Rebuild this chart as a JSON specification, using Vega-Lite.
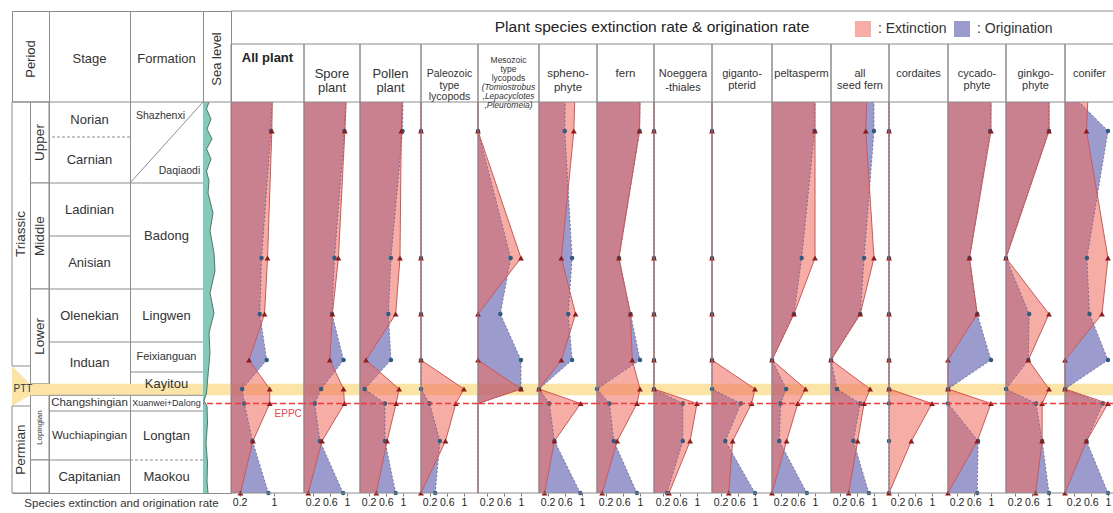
{
  "$schema": "https://vega.github.io/schema/vega-lite/v6.json",
  "padding": {"left": 11, "top": 10, "right": 0, "bottom": 0},
  "background": "white",
  "config": {
    "view": {"stroke": "#8c8c8c", "strokeWidth": 1},
    "concat": {"spacing": 0},
    "font": "Liberation Sans",
    "text": {"font": "Liberation Sans", "color": "#333333"},
    "axis": {"labelFont": "Liberation Sans", "labelColor": "#222222", "tickColor": "#777777"}
  },
  "datasets": {
    "rates": [
      {"taxon": "All plant", "level": 391, "sampled": false, "Extinction": 0.96, "Origination": 0.95},
      {"taxon": "All plant", "level": 362, "sampled": true, "Extinction": 0.95, "Origination": 0.93},
      {"taxon": "All plant", "level": 235, "sampled": true, "Extinction": 0.85, "Origination": 0.71},
      {"taxon": "All plant", "level": 179, "sampled": true, "Extinction": 0.78, "Origination": 0.67},
      {"taxon": "All plant", "level": 133, "sampled": true, "Extinction": 0.42, "Origination": 0.83},
      {"taxon": "All plant", "level": 104, "sampled": true, "Extinction": 0.90, "Origination": 0.26},
      {"taxon": "All plant", "level": 89.5, "sampled": true, "Extinction": 0.90, "Origination": 0.31},
      {"taxon": "All plant", "level": 52, "sampled": true, "Extinction": 0.51, "Origination": 0.50},
      {"taxon": "All plant", "level": 0, "sampled": true, "Extinction": 0.22, "Origination": 0.87},
      {"taxon": "Spore plant", "level": 391, "sampled": false, "Extinction": 0.98, "Origination": 0.97},
      {"taxon": "Spore plant", "level": 362, "sampled": true, "Extinction": 0.95, "Origination": 0.94},
      {"taxon": "Spore plant", "level": 235, "sampled": true, "Extinction": 0.80, "Origination": 0.71},
      {"taxon": "Spore plant", "level": 179, "sampled": true, "Extinction": 0.66, "Origination": 0.65},
      {"taxon": "Spore plant", "level": 133, "sampled": true, "Extinction": 0.60, "Origination": 0.92},
      {"taxon": "Spore plant", "level": 104, "sampled": true, "Extinction": 0.92, "Origination": 0.40},
      {"taxon": "Spore plant", "level": 89.5, "sampled": true, "Extinction": 0.94, "Origination": 0.25},
      {"taxon": "Spore plant", "level": 52, "sampled": true, "Extinction": 0.42, "Origination": 0.37},
      {"taxon": "Spore plant", "level": 0, "sampled": true, "Extinction": 0.10, "Origination": 0.91},
      {"taxon": "Pollen plant", "level": 391, "sampled": false, "Extinction": 0.98, "Origination": 1.0},
      {"taxon": "Pollen plant", "level": 362, "sampled": true, "Extinction": 0.96, "Origination": 0.99},
      {"taxon": "Pollen plant", "level": 235, "sampled": true, "Extinction": 0.93, "Origination": 0.72},
      {"taxon": "Pollen plant", "level": 179, "sampled": true, "Extinction": 0.83, "Origination": 0.66},
      {"taxon": "Pollen plant", "level": 133, "sampled": true, "Extinction": 0.14, "Origination": 0.72},
      {"taxon": "Pollen plant", "level": 104, "sampled": true, "Extinction": 0.91, "Origination": 0.11},
      {"taxon": "Pollen plant", "level": 89.5, "sampled": true, "Extinction": 0.84, "Origination": 0.58},
      {"taxon": "Pollen plant", "level": 52, "sampled": true, "Extinction": 0.63, "Origination": 0.58},
      {"taxon": "Pollen plant", "level": 0, "sampled": true, "Extinction": 0.38, "Origination": 0.83},
      {"taxon": "Paleozoic", "level": 391, "sampled": false, "Extinction": 0, "Origination": 0},
      {"taxon": "Paleozoic", "level": 362, "sampled": true, "Extinction": 0, "Origination": 0},
      {"taxon": "Paleozoic", "level": 235, "sampled": true, "Extinction": 0, "Origination": 0},
      {"taxon": "Paleozoic", "level": 179, "sampled": true, "Extinction": 0, "Origination": 0},
      {"taxon": "Paleozoic", "level": 133, "sampled": true, "Extinction": 0, "Origination": 0},
      {"taxon": "Paleozoic", "level": 104, "sampled": true, "Extinction": 1.0, "Origination": 0},
      {"taxon": "Paleozoic", "level": 89.5, "sampled": true, "Extinction": 0.81, "Origination": 0.20},
      {"taxon": "Paleozoic", "level": 52, "sampled": true, "Extinction": 0.57, "Origination": 0.44},
      {"taxon": "Paleozoic", "level": 0, "sampled": true, "Extinction": 0, "Origination": 0.33},
      {"taxon": "Mesozoic", "level": 391, "sampled": false, "Extinction": 0, "Origination": 0},
      {"taxon": "Mesozoic", "level": 362, "sampled": true, "Extinction": 0, "Origination": 0},
      {"taxon": "Mesozoic", "level": 235, "sampled": true, "Extinction": 1.0, "Origination": 0.76},
      {"taxon": "Mesozoic", "level": 179, "sampled": true, "Extinction": 0, "Origination": 0.52},
      {"taxon": "Mesozoic", "level": 133, "sampled": true, "Extinction": 0, "Origination": 1.0},
      {"taxon": "Mesozoic", "level": 104, "sampled": true, "Extinction": 1.0, "Origination": 1.0},
      {"taxon": "Mesozoic", "level": 89.5, "sampled": false, "Extinction": 0, "Origination": 0},
      {"taxon": "Mesozoic", "level": 52, "sampled": false, "Extinction": 0, "Origination": 0},
      {"taxon": "Mesozoic", "level": 0, "sampled": false, "Extinction": 0, "Origination": 0},
      {"taxon": "sphenophyte", "level": 391, "sampled": false, "Extinction": 0.83, "Origination": 0.61},
      {"taxon": "sphenophyte", "level": 362, "sampled": true, "Extinction": 0.81, "Origination": 0.60},
      {"taxon": "sphenophyte", "level": 235, "sampled": true, "Extinction": 0.52, "Origination": 0.77},
      {"taxon": "sphenophyte", "level": 179, "sampled": true, "Extinction": 0.85, "Origination": 0.68},
      {"taxon": "sphenophyte", "level": 133, "sampled": true, "Extinction": 0.52, "Origination": 0.77},
      {"taxon": "sphenophyte", "level": 104, "sampled": true, "Extinction": 0, "Origination": 0},
      {"taxon": "sphenophyte", "level": 89.5, "sampled": true, "Extinction": 0.97, "Origination": 0.24},
      {"taxon": "sphenophyte", "level": 52, "sampled": true, "Extinction": 0.36, "Origination": 0.36},
      {"taxon": "sphenophyte", "level": 0, "sampled": true, "Extinction": 0.13, "Origination": 0.96},
      {"taxon": "fern", "level": 391, "sampled": false, "Extinction": 1.0, "Origination": 1.0},
      {"taxon": "fern", "level": 362, "sampled": true, "Extinction": 0.99, "Origination": 0.99},
      {"taxon": "fern", "level": 235, "sampled": true, "Extinction": 0.51, "Origination": 0.51},
      {"taxon": "fern", "level": 179, "sampled": true, "Extinction": 0.78, "Origination": 0.78},
      {"taxon": "fern", "level": 133, "sampled": true, "Extinction": 0.82, "Origination": 1.0},
      {"taxon": "fern", "level": 104, "sampled": true, "Extinction": 1.0, "Origination": 0},
      {"taxon": "fern", "level": 89.5, "sampled": true, "Extinction": 0.93, "Origination": 0.29},
      {"taxon": "fern", "level": 52, "sampled": true, "Extinction": 0.47, "Origination": 0.39},
      {"taxon": "fern", "level": 0, "sampled": true, "Extinction": 0.12, "Origination": 0.93},
      {"taxon": "Noeggerathiales", "level": 391, "sampled": false, "Extinction": 0, "Origination": 0},
      {"taxon": "Noeggerathiales", "level": 362, "sampled": true, "Extinction": 0, "Origination": 0},
      {"taxon": "Noeggerathiales", "level": 235, "sampled": true, "Extinction": 0, "Origination": 0},
      {"taxon": "Noeggerathiales", "level": 179, "sampled": true, "Extinction": 0, "Origination": 0},
      {"taxon": "Noeggerathiales", "level": 133, "sampled": true, "Extinction": 0, "Origination": 0},
      {"taxon": "Noeggerathiales", "level": 104, "sampled": true, "Extinction": 0, "Origination": 0},
      {"taxon": "Noeggerathiales", "level": 89.5, "sampled": true, "Extinction": 1.0, "Origination": 0.67},
      {"taxon": "Noeggerathiales", "level": 52, "sampled": true, "Extinction": 0.84, "Origination": 0.67},
      {"taxon": "Noeggerathiales", "level": 0, "sampled": true, "Extinction": 0.35, "Origination": 0.30},
      {"taxon": "gigantopterid", "level": 391, "sampled": false, "Extinction": 0, "Origination": 0},
      {"taxon": "gigantopterid", "level": 362, "sampled": true, "Extinction": 0, "Origination": 0},
      {"taxon": "gigantopterid", "level": 235, "sampled": true, "Extinction": 0, "Origination": 0},
      {"taxon": "gigantopterid", "level": 179, "sampled": true, "Extinction": 0, "Origination": 0},
      {"taxon": "gigantopterid", "level": 133, "sampled": true, "Extinction": 0, "Origination": 0},
      {"taxon": "gigantopterid", "level": 104, "sampled": true, "Extinction": 1.0, "Origination": 0},
      {"taxon": "gigantopterid", "level": 89.5, "sampled": true, "Extinction": 0.92, "Origination": 0.67},
      {"taxon": "gigantopterid", "level": 52, "sampled": true, "Extinction": 0.48, "Origination": 0.31},
      {"taxon": "gigantopterid", "level": 0, "sampled": true, "Extinction": 0.39, "Origination": 1.0},
      {"taxon": "peltasperm", "level": 391, "sampled": false, "Extinction": 1.0, "Origination": 1.0},
      {"taxon": "peltasperm", "level": 362, "sampled": true, "Extinction": 1.0, "Origination": 0.99},
      {"taxon": "peltasperm", "level": 235, "sampled": true, "Extinction": 1.0, "Origination": 0.69},
      {"taxon": "peltasperm", "level": 179, "sampled": true, "Extinction": 0.51, "Origination": 0.51},
      {"taxon": "peltasperm", "level": 133, "sampled": true, "Extinction": 0, "Origination": 0},
      {"taxon": "peltasperm", "level": 104, "sampled": true, "Extinction": 0.78, "Origination": 0.33},
      {"taxon": "peltasperm", "level": 89.5, "sampled": true, "Extinction": 0.60, "Origination": 0.20},
      {"taxon": "peltasperm", "level": 52, "sampled": true, "Extinction": 0.34, "Origination": 0.17},
      {"taxon": "peltasperm", "level": 0, "sampled": true, "Extinction": 0, "Origination": 0.81},
      {"taxon": "all seed fern", "level": 391, "sampled": false, "Extinction": 0.83, "Origination": 1.0},
      {"taxon": "all seed fern", "level": 362, "sampled": true, "Extinction": 0.81, "Origination": 1.0},
      {"taxon": "all seed fern", "level": 235, "sampled": true, "Extinction": 1.0, "Origination": 0.77},
      {"taxon": "all seed fern", "level": 179, "sampled": true, "Extinction": 0.68, "Origination": 0.68},
      {"taxon": "all seed fern", "level": 133, "sampled": true, "Extinction": 0, "Origination": 0},
      {"taxon": "all seed fern", "level": 104, "sampled": true, "Extinction": 0.91, "Origination": 0.14},
      {"taxon": "all seed fern", "level": 89.5, "sampled": true, "Extinction": 0.77, "Origination": 0.68},
      {"taxon": "all seed fern", "level": 52, "sampled": true, "Extinction": 0.62, "Origination": 0.52},
      {"taxon": "all seed fern", "level": 0, "sampled": true, "Extinction": 0.41, "Origination": 0.88},
      {"taxon": "cordaites", "level": 391, "sampled": false, "Extinction": 0, "Origination": 0},
      {"taxon": "cordaites", "level": 362, "sampled": true, "Extinction": 0, "Origination": 0},
      {"taxon": "cordaites", "level": 235, "sampled": true, "Extinction": 0, "Origination": 0},
      {"taxon": "cordaites", "level": 179, "sampled": true, "Extinction": 0, "Origination": 0},
      {"taxon": "cordaites", "level": 133, "sampled": true, "Extinction": 0, "Origination": 0},
      {"taxon": "cordaites", "level": 104, "sampled": true, "Extinction": 0, "Origination": 0},
      {"taxon": "cordaites", "level": 89.5, "sampled": true, "Extinction": 1.0, "Origination": 0},
      {"taxon": "cordaites", "level": 52, "sampled": true, "Extinction": 0.52, "Origination": 0},
      {"taxon": "cordaites", "level": 0, "sampled": true, "Extinction": 0, "Origination": 0},
      {"taxon": "cycadophyte", "level": 391, "sampled": false, "Extinction": 1.0, "Origination": 1.0},
      {"taxon": "cycadophyte", "level": 362, "sampled": true, "Extinction": 1.0, "Origination": 0.98},
      {"taxon": "cycadophyte", "level": 235, "sampled": true, "Extinction": 0.50, "Origination": 0.50},
      {"taxon": "cycadophyte", "level": 179, "sampled": true, "Extinction": 0.68, "Origination": 0.68},
      {"taxon": "cycadophyte", "level": 133, "sampled": true, "Extinction": 0, "Origination": 1.0},
      {"taxon": "cycadophyte", "level": 104, "sampled": true, "Extinction": 0, "Origination": 0},
      {"taxon": "cycadophyte", "level": 89.5, "sampled": true, "Extinction": 1.0, "Origination": 0},
      {"taxon": "cycadophyte", "level": 52, "sampled": true, "Extinction": 0.68, "Origination": 0.70},
      {"taxon": "cycadophyte", "level": 0, "sampled": true, "Extinction": 0, "Origination": 0.68},
      {"taxon": "ginkgophyte", "level": 391, "sampled": false, "Extinction": 1.0, "Origination": 1.0},
      {"taxon": "ginkgophyte", "level": 362, "sampled": true, "Extinction": 1.0, "Origination": 1.0},
      {"taxon": "ginkgophyte", "level": 235, "sampled": true, "Extinction": 0, "Origination": 0},
      {"taxon": "ginkgophyte", "level": 179, "sampled": true, "Extinction": 1.0, "Origination": 0.54},
      {"taxon": "ginkgophyte", "level": 133, "sampled": true, "Extinction": 0.52, "Origination": 0.52},
      {"taxon": "ginkgophyte", "level": 104, "sampled": true, "Extinction": 1.0, "Origination": 0},
      {"taxon": "ginkgophyte", "level": 89.5, "sampled": true, "Extinction": 0.84, "Origination": 0.70},
      {"taxon": "ginkgophyte", "level": 52, "sampled": true, "Extinction": 0.84, "Origination": 0.84},
      {"taxon": "ginkgophyte", "level": 0, "sampled": true, "Extinction": 0.69, "Origination": 1.0},
      {"taxon": "conifer", "level": 391, "sampled": false, "Extinction": 0.53, "Origination": 0.33},
      {"taxon": "conifer", "level": 362, "sampled": true, "Extinction": 0.50, "Origination": 1.0},
      {"taxon": "conifer", "level": 235, "sampled": true, "Extinction": 1.0, "Origination": 0.51},
      {"taxon": "conifer", "level": 179, "sampled": true, "Extinction": 0.86, "Origination": 0.57},
      {"taxon": "conifer", "level": 133, "sampled": true, "Extinction": 0, "Origination": 1.0},
      {"taxon": "conifer", "level": 104, "sampled": true, "Extinction": 0, "Origination": 0},
      {"taxon": "conifer", "level": 89.5, "sampled": true, "Extinction": 1.0, "Origination": 0.88},
      {"taxon": "conifer", "level": 52, "sampled": true, "Extinction": 0.50, "Origination": 0.50},
      {"taxon": "conifer", "level": 0, "sampled": true, "Extinction": 0, "Origination": 1.0}
    ],
    "periods": [
      {"rank": "period", "name": "Triassic", "top": 391, "bottom": 127},
      {"rank": "period", "name": "Permian", "top": 87, "bottom": 0},
      {"rank": "epoch", "name": "Upper", "top": 391, "bottom": 310},
      {"rank": "epoch", "name": "Middle", "top": 310, "bottom": 204},
      {"rank": "epoch", "name": "Lower", "top": 204, "bottom": 109.3},
      {"rank": "epoch", "name": "Lopingian", "top": 97.7, "bottom": 33},
      {"rank": "epoch", "name": "", "top": 33, "bottom": 0}
    ],
    "strat": [
      {"col": "stage", "name": "Norian", "top": 391, "bottom": 356},
      {"col": "stage", "name": "Carnian", "top": 356, "bottom": 310},
      {"col": "stage", "name": "Ladinian", "top": 310, "bottom": 257},
      {"col": "stage", "name": "Anisian", "top": 257, "bottom": 204},
      {"col": "stage", "name": "Olenekian", "top": 204, "bottom": 151},
      {"col": "stage", "name": "Induan", "top": 151, "bottom": 109.3},
      {"col": "stage", "name": "Changshingian", "top": 97.7, "bottom": 82},
      {"col": "stage", "name": "Wuchiapingian", "top": 82, "bottom": 33},
      {"col": "stage", "name": "Capitanian", "top": 33, "bottom": 0},
      {"col": "formation", "name": "Badong", "top": 310, "bottom": 204},
      {"col": "formation", "name": "Lingwen", "top": 204, "bottom": 151},
      {"col": "formation", "name": "Feixianguan", "top": 151, "bottom": 121},
      {"col": "formation", "name": "Kayitou", "top": 121, "bottom": 98},
      {"col": "formation", "name": "Xuanwei+Dalong", "top": 97.7, "bottom": 82},
      {"col": "formation", "name": "Longtan", "top": 82, "bottom": 33},
      {"col": "formation", "name": "Maokou", "top": 33, "bottom": 0}
    ],
    "bounds": [
      {"col": "stage", "level": 391, "certain": true},
      {"col": "stage", "level": 356, "certain": false},
      {"col": "stage", "level": 310, "certain": true},
      {"col": "stage", "level": 257, "certain": true},
      {"col": "stage", "level": 204, "certain": true},
      {"col": "stage", "level": 151, "certain": true},
      {"col": "stage", "level": 97.7, "certain": true},
      {"col": "stage", "level": 82, "certain": true},
      {"col": "stage", "level": 33, "certain": true},
      {"col": "formation", "level": 391, "certain": true},
      {"col": "formation", "level": 310, "certain": true},
      {"col": "formation", "level": 204, "certain": true},
      {"col": "formation", "level": 151, "certain": true},
      {"col": "formation", "level": 121, "certain": true},
      {"col": "formation", "level": 97.7, "certain": true},
      {"col": "formation", "level": 82, "certain": true},
      {"col": "formation", "level": 33, "certain": false}
    ],
    "ptt": [
      {"p": 0, "upper": 127, "lower": 87},
      {"p": 1, "upper": 109.3, "lower": 97.7}
    ],
    "sea": [
      {"level": 391, "sea": 6}, {"level": 384, "sea": 3.5}, {"level": 374, "sea": 8}, {"level": 364, "sea": 4},
      {"level": 354, "sea": 9}, {"level": 344, "sea": 3.5}, {"level": 334, "sea": 8}, {"level": 322, "sea": 3.5},
      {"level": 312, "sea": 6}, {"level": 300, "sea": 5}, {"level": 280, "sea": 10}, {"level": 262, "sea": 7},
      {"level": 240, "sea": 11}, {"level": 222, "sea": 12}, {"level": 200, "sea": 7}, {"level": 180, "sea": 11},
      {"level": 160, "sea": 6}, {"level": 140, "sea": 7}, {"level": 118, "sea": 5}, {"level": 100, "sea": 3.5},
      {"level": 92, "sea": 1}, {"level": 87, "sea": 4}, {"level": 70, "sea": 4.5}, {"level": 50, "sea": 3},
      {"level": 30, "sea": 4.5}, {"level": 12, "sea": 4}, {"level": 0, "sea": 5}
    ]
  },
  "spacing": 0,
  "bounds": "flush",
  "hconcat": [
    {"width": 37, "height": 482, "resolve": {"scale": {"x": "independent"}}, "layer": [
      {"data": {"name": "periods"}, "mark": {"type": "rect", "fill": "white", "stroke": "#8c8c8c", "strokeWidth": 1},
       "encoding": {"x": {"field": "rank", "type": "nominal", "scale": {"domain": ["period", "epoch"], "paddingInner": 0, "paddingOuter": 0}, "axis": null},
                    "y": {"field": "top", "type": "quantitative", "scale": {"domain": [0, 482], "nice": false, "zero": false}, "axis": null}, "y2": {"field": "bottom"}}},
      {"data": {"values": [{}]}, "mark": {"type": "rect", "color": "#fbe4a6"}, "encoding": {"y": {"datum": 97.7, "type": "quantitative"}, "y2": {"datum": 109.3}}},
      {"data": {"name": "ptt"}, "mark": {"type": "area", "orient": "vertical", "color": "#fbe4a6", "opacity": 1},
       "encoding": {"x": {"field": "p", "type": "quantitative", "scale": {"domain": [0, 2.056], "nice": false}, "axis": null}, "y": {"field": "upper", "type": "quantitative"}, "y2": {"field": "lower"}}},
      {"data": {"name": "periods"}, "transform": [{"fold": ["top", "bottom"], "as": ["edge", "lv"]}, {"aggregate": [{"op": "mean", "field": "lv", "as": "mid"}], "groupby": ["rank", "name"]}],
       "mark": {"type": "text", "angle": 270},
       "encoding": {"x": {"field": "rank", "type": "nominal", "scale": {"domain": ["period", "epoch"], "paddingInner": 0, "paddingOuter": 0}, "axis": null}, "y": {"field": "mid", "type": "quantitative"}, "text": {"field": "name"},
                    "size": {"condition": {"test": "datum.name === 'Lopingian'", "value": 8}, "value": 13.5}}},
      {"data": {"values": [{}]}, "mark": {"type": "text", "text": "PTT", "fontSize": 10, "align": "left", "dx": -17}, "encoding": {"y": {"datum": 104, "type": "quantitative"}}},
      {"data": {"values": [{}]}, "mark": {"type": "rule", "color": "#8c8c8c"}, "encoding": {"y": {"datum": 391, "type": "quantitative"}}},
      {"data": {"values": [{}]}, "mark": {"type": "text", "text": "Period", "angle": 270, "fontSize": 13}, "encoding": {"y": {"datum": 434, "type": "quantitative"}}}
    ]},
    {"width": 81, "height": 482, "layer": [
      {"data": {"values": [{}]}, "mark": {"type": "rect", "color": "#fbe4a6"}, "encoding": {"y": {"datum": 97.7, "type": "quantitative", "scale": {"domain": [0, 482], "nice": false, "zero": false}, "axis": null}, "y2": {"datum": 109.3}}},
      {"data": {"name": "bounds"}, "transform": [{"filter": "datum.col === 'stage'"}], "mark": {"type": "rule", "color": "#8c8c8c"},
       "encoding": {"y": {"field": "level", "type": "quantitative"}, "strokeDash": {"condition": {"test": "!datum.certain", "value": [3, 2]}, "value": [1, 0]}}},
      {"data": {"name": "strat"}, "transform": [{"filter": "datum.col === 'stage'"}, {"fold": ["top", "bottom"], "as": ["edge", "lv"]}, {"aggregate": [{"op": "mean", "field": "lv", "as": "mid"}], "groupby": ["name"]}],
       "mark": {"type": "text"},
       "encoding": {"y": {"field": "mid", "type": "quantitative"}, "text": {"field": "name"},
                    "size": {"condition": {"test": "datum.name === 'Changshingian' || datum.name === 'Wuchiapingian'", "value": 11.5}, "value": 13}}},
      {"data": {"values": [{}]}, "mark": {"type": "text", "text": "Stage", "fontSize": 13}, "encoding": {"y": {"datum": 434, "type": "quantitative"}}},
      {"data": {"values": [{}]}, "mark": {"type": "text", "text": "Species extinction and origination rate", "fontSize": 11.5, "dx": 32}, "encoding": {"y": {"datum": -10.5, "type": "quantitative"}}}
    ]},
    {"width": 73, "height": 482, "layer": [
      {"data": {"values": [{}]}, "mark": {"type": "rect", "color": "#fbe4a6"}, "encoding": {"y": {"datum": 97.7, "type": "quantitative", "scale": {"domain": [0, 482], "nice": false, "zero": false}, "axis": null}, "y2": {"datum": 109.3}}},
      {"data": {"name": "bounds"}, "transform": [{"filter": "datum.col === 'formation'"}], "mark": {"type": "rule", "color": "#8c8c8c"},
       "encoding": {"y": {"field": "level", "type": "quantitative"}, "strokeDash": {"condition": {"test": "!datum.certain", "value": [3, 2]}, "value": [1, 0]}}},
      {"data": {"values": [{}]}, "mark": {"type": "rule", "color": "#8c8c8c"},
       "encoding": {"x": {"datum": 0, "type": "quantitative", "scale": {"domain": [0, 1], "nice": false}, "axis": null}, "x2": {"datum": 1}, "y": {"datum": 310, "type": "quantitative"}, "y2": {"datum": 391}}},
      {"data": {"name": "strat"}, "transform": [{"filter": "datum.col === 'formation'"}, {"fold": ["top", "bottom"], "as": ["edge", "lv"]}, {"aggregate": [{"op": "mean", "field": "lv", "as": "mid"}], "groupby": ["name"]}],
       "mark": {"type": "text"},
       "encoding": {"y": {"field": "mid", "type": "quantitative"}, "text": {"field": "name"},
                    "size": {"condition": [{"test": "datum.name === 'Xuanwei+Dalong'", "value": 9}, {"test": "datum.name === 'Feixianguan'", "value": 11}], "value": 13}}},
      {"data": {"values": [{}]}, "mark": {"type": "text", "text": "Shazhenxi", "fontSize": 10.5, "dx": -6}, "encoding": {"y": {"datum": 377, "type": "quantitative"}}},
      {"data": {"values": [{}]}, "mark": {"type": "text", "text": "Daqiaodi", "fontSize": 10.5, "dx": 13}, "encoding": {"y": {"datum": 322, "type": "quantitative"}}},
      {"data": {"values": [{}]}, "mark": {"type": "text", "text": "Formation", "fontSize": 13}, "encoding": {"y": {"datum": 434, "type": "quantitative"}}}
    ]},
    {"width": 28, "height": 482, "layer": [
      {"data": {"values": [{}]}, "mark": {"type": "rect", "color": "#fbe4a6"}, "encoding": {"y": {"datum": 97.7, "type": "quantitative", "scale": {"domain": [0, 482], "nice": false, "zero": false}, "axis": null}, "y2": {"datum": 109.3}}},
      {"data": {"name": "sea"}, "mark": {"type": "area", "orient": "horizontal", "color": "#86c9b9", "opacity": 1},
       "encoding": {"y": {"field": "level", "type": "quantitative"}, "x": {"field": "sea", "type": "quantitative", "scale": {"domain": [0, 28], "nice": false}, "axis": null}}},
      {"data": {"name": "sea"}, "mark": {"type": "line", "color": "#3f7f70", "strokeWidth": 1},
       "encoding": {"y": {"field": "level", "type": "quantitative"}, "x": {"field": "sea", "type": "quantitative"}, "order": {"field": "level", "type": "quantitative"}}},
      {"data": {"values": [{}]}, "mark": {"type": "rule", "color": "#8c8c8c"}, "encoding": {"y": {"datum": 391, "type": "quantitative"}}},
      {"data": {"values": [{}]}, "mark": {"type": "text", "text": "Sea level", "angle": 270, "fontSize": 13}, "encoding": {"y": {"datum": 434, "type": "quantitative"}}},
      {"data": {"values": [{}]}, "mark": {"type": "rule", "stroke": "#ee3a3a", "color": "#ee3a3a", "strokeWidth": 1.7, "strokeDash": [6, 3], "opacity": 1}, "encoding": {"y": {"datum": 89.5, "type": "quantitative"}}}
    ]},
    {"width": 73, "height": 482, "view": {"stroke": null}, "layer": [
      {"data": {"values": [{}]}, "mark": {"type": "rect", "color": "#fbe4a6"}, "encoding": {"y": {"datum": 97.7, "type": "quantitative", "scale": {"domain": [0, 482], "nice": false, "zero": false}, "axis": null}, "y2": {"datum": 109.3}}},
      {"data": {"name": "rates"}, "transform": [{"filter": "datum.taxon === 'All plant'"}, {"fold": ["Origination", "Extinction"], "as": ["type", "rate"]}],
       "encoding": {"y": {"field": "level", "type": "quantitative", "scale": {"domain": [0, 482], "nice": false, "zero": false}, "axis": null},
                    "x": {"field": "rate", "type": "quantitative", "scale": {"domain": [0, 1.698], "nice": false}, "axis": {"title": null, "values": [0.2, 0.6, 1], "format": "~g", "grid": false, "domain": false, "tickSize": 3, "labelFontSize": 10.5, "labelPadding": 1, "labelFlush": false, "labelOverlap": false, "labelBound": false}}},
       "layer": [
         {"transform": [{"filter": "datum.type === 'Origination'"}], "mark": {"type": "area", "orient": "horizontal", "opacity": 0.55},
          "encoding": {"fill": {"field": "type", "type": "nominal", "scale": {"domain": ["Extinction", "Origination"], "range": ["#ee6a5c", "#4b48a4"]},
            "legend": {"orient": "none", "legendX": 842, "legendY": 9, "direction": "horizontal", "title": null, "symbolType": "square", "symbolSize": 256, "labelFontSize": 14, "labelColor": "#333333", "labelOffset": 6, "columnPadding": 6, "padding": 0, "labelExpr": "': ' + datum.label",
              "encode": {"symbols": {"update": {
                "shape": {"signal": "datum.value === 'Extinction' ? 'M-1,-1H1V1H-1Z M0,-0.38L0.34,0.26L-0.34,0.26Z' : 'M-1,-1H1V1H-1Z M0.2,0A0.2,0.2 0 1,1 -0.2,0A0.2,0.2 0 1,1 0.2,0Z'"},
                "stroke": {"signal": "datum.value === 'Extinction' ? '#b53a36' : '#4a4f8f'"},
                "strokeDash": {"signal": "datum.value === 'Extinction' ? [1,0] : [2,1.5]"},
                "strokeWidth": {"value": 1}, "fillOpacity": {"value": 0.6}, "opacity": {"value": 1}}}}}}}},
         {"transform": [{"filter": "datum.type === 'Extinction'"}], "mark": {"type": "area", "orient": "horizontal", "opacity": 0.55}, "encoding": {"fill": {"field": "type", "type": "nominal", "scale": {"domain": ["Extinction", "Origination"], "range": ["#ee6a5c", "#4b48a4"]}}}},
         {"transform": [{"filter": "datum.type === 'Origination'"}], "mark": {"type": "line", "color": "#5b5fa8", "strokeDash": [2, 2], "strokeWidth": 0.8}, "encoding": {"order": {"field": "level", "type": "quantitative"}}},
         {"transform": [{"filter": "datum.type === 'Extinction'"}], "mark": {"type": "line", "color": "#d9534f", "strokeWidth": 1}, "encoding": {"order": {"field": "level", "type": "quantitative"}}},
         {"transform": [{"filter": "datum.sampled && datum.type === 'Origination'"}], "mark": {"type": "point", "shape": "circle", "filled": true, "size": 20, "color": "#2f5b80", "opacity": 1}},
         {"transform": [{"filter": "datum.sampled && datum.type === 'Extinction'"}], "mark": {"type": "point", "shape": "triangle-up", "filled": true, "size": 34, "color": "#8e1b1b", "opacity": 1}}
       ]},
      {"data": {"values": [{}]}, "mark": {"type": "text", "text": "EPPC", "fontSize": 10, "color": "#e0474c"}, "encoding": {"y": {"datum": 79, "type": "quantitative"}, "x": {"datum": 1.33, "type": "quantitative"}}},
      {"data": {"values": [{}]}, "mark": {"type": "rect", "fill": "transparent", "stroke": "#8c8c8c", "strokeWidth": 1}, "encoding": {"y": {"datum": 0, "type": "quantitative"}, "y2": {"datum": 449}}},
      {"data": {"values": [{}]}, "mark": {"type": "rule", "color": "#8c8c8c"}, "encoding": {"y": {"datum": 391, "type": "quantitative"}}},
      {"data": {"values": [{}]}, "mark": {"type": "rule", "color": "#8c8c8c"}, "encoding": {"y": {"datum": 482, "type": "quantitative"}}},
      {"data": {"values": [{}]}, "mark": {"type": "text", "text": "All plant", "fontSize": 13, "fontWeight": "bold", "color": "#222222"}, "encoding": {"y": {"datum": 435, "type": "quantitative"}}},
      {"data": {"values": [{}]}, "mark": {"type": "rule", "stroke": "#ee3a3a", "color": "#ee3a3a", "strokeWidth": 1.7, "strokeDash": [6, 3], "opacity": 1}, "encoding": {"y": {"datum": 89.5, "type": "quantitative"}}}
    ]},
    {"width": 56, "height": 482, "view": {"stroke": null}, "layer": [
      {"data": {"values": [{}]}, "mark": {"type": "rect", "color": "#fbe4a6"}, "encoding": {"y": {"datum": 97.7, "type": "quantitative", "scale": {"domain": [0, 482], "nice": false, "zero": false}, "axis": null}, "y2": {"datum": 109.3}}},
      {"data": {"name": "rates"}, "transform": [{"filter": "datum.taxon === 'Spore plant'"}, {"fold": ["Origination", "Extinction"], "as": ["type", "rate"]}],
       "encoding": {"y": {"field": "level", "type": "quantitative", "scale": {"domain": [0, 482], "nice": false, "zero": false}, "axis": null},
                    "x": {"field": "rate", "type": "quantitative", "scale": {"domain": [0, 1.302], "nice": false}, "axis": {"title": null, "values": [0.2, 0.6, 1], "format": "~g", "grid": false, "domain": false, "tickSize": 3, "labelFontSize": 10.5, "labelPadding": 1, "labelFlush": false, "labelOverlap": false, "labelBound": false}}},
       "layer": [
         {"transform": [{"filter": "datum.type === 'Origination'"}], "mark": {"type": "area", "orient": "horizontal", "opacity": 0.55}, "encoding": {"fill": {"field": "type", "type": "nominal", "scale": {"domain": ["Extinction", "Origination"], "range": ["#ee6a5c", "#4b48a4"]}}}},
         {"transform": [{"filter": "datum.type === 'Extinction'"}], "mark": {"type": "area", "orient": "horizontal", "opacity": 0.55}, "encoding": {"fill": {"field": "type", "type": "nominal", "scale": {"domain": ["Extinction", "Origination"], "range": ["#ee6a5c", "#4b48a4"]}}}},
         {"transform": [{"filter": "datum.type === 'Origination'"}], "mark": {"type": "line", "color": "#5b5fa8", "strokeDash": [2, 2], "strokeWidth": 0.8}, "encoding": {"order": {"field": "level", "type": "quantitative"}}},
         {"transform": [{"filter": "datum.type === 'Extinction'"}], "mark": {"type": "line", "color": "#d9534f", "strokeWidth": 1}, "encoding": {"order": {"field": "level", "type": "quantitative"}}},
         {"transform": [{"filter": "datum.sampled && datum.type === 'Origination'"}], "mark": {"type": "point", "shape": "circle", "filled": true, "size": 20, "color": "#2f5b80", "opacity": 1}},
         {"transform": [{"filter": "datum.sampled && datum.type === 'Extinction'"}], "mark": {"type": "point", "shape": "triangle-up", "filled": true, "size": 34, "color": "#8e1b1b", "opacity": 1}}
       ]},
      {"data": {"values": [{}]}, "mark": {"type": "rect", "fill": "transparent", "stroke": "#8c8c8c", "strokeWidth": 1}, "encoding": {"y": {"datum": 0, "type": "quantitative"}, "y2": {"datum": 449}}},
      {"data": {"values": [{}]}, "mark": {"type": "rule", "color": "#8c8c8c"}, "encoding": {"y": {"datum": 391, "type": "quantitative"}}},
      {"data": {"values": [{}]}, "mark": {"type": "rule", "color": "#8c8c8c"}, "encoding": {"y": {"datum": 482, "type": "quantitative"}}},
      {"data": {"values": [{}]}, "mark": {"type": "text", "text": "Spore\nplant", "lineBreak": "\n", "lineHeight": 14, "fontSize": 13}, "encoding": {"y": {"datum": 419, "type": "quantitative"}}},
      {"data": {"values": [{}]}, "mark": {"type": "rule", "stroke": "#ee3a3a", "color": "#ee3a3a", "strokeWidth": 1.7, "strokeDash": [6, 3], "opacity": 1}, "encoding": {"y": {"datum": 89.5, "type": "quantitative"}}}
    ]},
    {"width": 61, "height": 482, "view": {"stroke": null}, "layer": [
      {"data": {"values": [{}]}, "mark": {"type": "rect", "color": "#fbe4a6"}, "encoding": {"y": {"datum": 97.7, "type": "quantitative", "scale": {"domain": [0, 482], "nice": false, "zero": false}, "axis": null}, "y2": {"datum": 109.3}}},
      {"data": {"name": "rates"}, "transform": [{"filter": "datum.taxon === 'Pollen plant'"}, {"fold": ["Origination", "Extinction"], "as": ["type", "rate"]}],
       "encoding": {"y": {"field": "level", "type": "quantitative", "scale": {"domain": [0, 482], "nice": false, "zero": false}, "axis": null},
                    "x": {"field": "rate", "type": "quantitative", "scale": {"domain": [0, 1.419], "nice": false}, "axis": {"title": null, "values": [0.2, 0.6, 1], "format": "~g", "grid": false, "domain": false, "tickSize": 3, "labelFontSize": 10.5, "labelPadding": 1, "labelFlush": false, "labelOverlap": false, "labelBound": false}}},
       "layer": [
         {"transform": [{"filter": "datum.type === 'Origination'"}], "mark": {"type": "area", "orient": "horizontal", "opacity": 0.55}, "encoding": {"fill": {"field": "type", "type": "nominal", "scale": {"domain": ["Extinction", "Origination"], "range": ["#ee6a5c", "#4b48a4"]}}}},
         {"transform": [{"filter": "datum.type === 'Extinction'"}], "mark": {"type": "area", "orient": "horizontal", "opacity": 0.55}, "encoding": {"fill": {"field": "type", "type": "nominal", "scale": {"domain": ["Extinction", "Origination"], "range": ["#ee6a5c", "#4b48a4"]}}}},
         {"transform": [{"filter": "datum.type === 'Origination'"}], "mark": {"type": "line", "color": "#5b5fa8", "strokeDash": [2, 2], "strokeWidth": 0.8}, "encoding": {"order": {"field": "level", "type": "quantitative"}}},
         {"transform": [{"filter": "datum.type === 'Extinction'"}], "mark": {"type": "line", "color": "#d9534f", "strokeWidth": 1}, "encoding": {"order": {"field": "level", "type": "quantitative"}}},
         {"transform": [{"filter": "datum.sampled && datum.type === 'Origination'"}], "mark": {"type": "point", "shape": "circle", "filled": true, "size": 20, "color": "#2f5b80", "opacity": 1}},
         {"transform": [{"filter": "datum.sampled && datum.type === 'Extinction'"}], "mark": {"type": "point", "shape": "triangle-up", "filled": true, "size": 34, "color": "#8e1b1b", "opacity": 1}}
       ]},
      {"data": {"values": [{}]}, "mark": {"type": "rect", "fill": "transparent", "stroke": "#8c8c8c", "strokeWidth": 1}, "encoding": {"y": {"datum": 0, "type": "quantitative"}, "y2": {"datum": 449}}},
      {"data": {"values": [{}]}, "mark": {"type": "rule", "color": "#8c8c8c"}, "encoding": {"y": {"datum": 391, "type": "quantitative"}}},
      {"data": {"values": [{}]}, "mark": {"type": "rule", "color": "#8c8c8c"}, "encoding": {"y": {"datum": 482, "type": "quantitative"}}},
      {"data": {"values": [{}]}, "mark": {"type": "text", "text": "Pollen\nplant", "lineBreak": "\n", "lineHeight": 14, "fontSize": 13}, "encoding": {"y": {"datum": 419, "type": "quantitative"}}},
      {"data": {"values": [{}]}, "mark": {"type": "rule", "stroke": "#ee3a3a", "color": "#ee3a3a", "strokeWidth": 1.7, "strokeDash": [6, 3], "opacity": 1}, "encoding": {"y": {"datum": 89.5, "type": "quantitative"}}}
    ]},
    {"width": 57, "height": 482, "view": {"stroke": null}, "layer": [
      {"data": {"values": [{}]}, "mark": {"type": "rect", "color": "#fbe4a6"}, "encoding": {"y": {"datum": 97.7, "type": "quantitative", "scale": {"domain": [0, 482], "nice": false, "zero": false}, "axis": null}, "y2": {"datum": 109.3}}},
      {"data": {"name": "rates"}, "transform": [{"filter": "datum.taxon === 'Paleozoic'"}, {"fold": ["Origination", "Extinction"], "as": ["type", "rate"]}],
       "encoding": {"y": {"field": "level", "type": "quantitative", "scale": {"domain": [0, 482], "nice": false, "zero": false}, "axis": null},
                    "x": {"field": "rate", "type": "quantitative", "scale": {"domain": [0, 1.326], "nice": false}, "axis": {"title": null, "values": [0.2, 0.6, 1], "format": "~g", "grid": false, "domain": false, "tickSize": 3, "labelFontSize": 10.5, "labelPadding": 1, "labelFlush": false, "labelOverlap": false, "labelBound": false}}},
       "layer": [
         {"transform": [{"filter": "datum.type === 'Origination'"}], "mark": {"type": "area", "orient": "horizontal", "opacity": 0.55}, "encoding": {"fill": {"field": "type", "type": "nominal", "scale": {"domain": ["Extinction", "Origination"], "range": ["#ee6a5c", "#4b48a4"]}}}},
         {"transform": [{"filter": "datum.type === 'Extinction'"}], "mark": {"type": "area", "orient": "horizontal", "opacity": 0.55}, "encoding": {"fill": {"field": "type", "type": "nominal", "scale": {"domain": ["Extinction", "Origination"], "range": ["#ee6a5c", "#4b48a4"]}}}},
         {"transform": [{"filter": "datum.type === 'Origination'"}], "mark": {"type": "line", "color": "#5b5fa8", "strokeDash": [2, 2], "strokeWidth": 0.8}, "encoding": {"order": {"field": "level", "type": "quantitative"}}},
         {"transform": [{"filter": "datum.type === 'Extinction'"}], "mark": {"type": "line", "color": "#d9534f", "strokeWidth": 1}, "encoding": {"order": {"field": "level", "type": "quantitative"}}},
         {"transform": [{"filter": "datum.sampled && datum.type === 'Origination'"}], "mark": {"type": "point", "shape": "circle", "filled": true, "size": 20, "color": "#2f5b80", "opacity": 1}},
         {"transform": [{"filter": "datum.sampled && datum.type === 'Extinction'"}], "mark": {"type": "point", "shape": "triangle-up", "filled": true, "size": 34, "color": "#8e1b1b", "opacity": 1}}
       ]},
      {"data": {"values": [{}]}, "mark": {"type": "rect", "fill": "transparent", "stroke": "#8c8c8c", "strokeWidth": 1}, "encoding": {"y": {"datum": 0, "type": "quantitative"}, "y2": {"datum": 449}}},
      {"data": {"values": [{}]}, "mark": {"type": "rule", "color": "#8c8c8c"}, "encoding": {"y": {"datum": 391, "type": "quantitative"}}},
      {"data": {"values": [{}]}, "mark": {"type": "rule", "color": "#8c8c8c"}, "encoding": {"y": {"datum": 482, "type": "quantitative"}}},
      {"data": {"values": [{}]}, "mark": {"type": "text", "text": "Paleozoic\ntype\nlycopods", "lineBreak": "\n", "lineHeight": 11.5, "fontSize": 10.5}, "encoding": {"y": {"datum": 419, "type": "quantitative"}}},
      {"data": {"values": [{}]}, "mark": {"type": "rule", "stroke": "#ee3a3a", "color": "#ee3a3a", "strokeWidth": 1.7, "strokeDash": [6, 3], "opacity": 1}, "encoding": {"y": {"datum": 89.5, "type": "quantitative"}}}
    ]},
    {"width": 61, "height": 482, "view": {"stroke": null}, "layer": [
      {"data": {"values": [{}]}, "mark": {"type": "rect", "color": "#fbe4a6"}, "encoding": {"y": {"datum": 97.7, "type": "quantitative", "scale": {"domain": [0, 482], "nice": false, "zero": false}, "axis": null}, "y2": {"datum": 109.3}}},
      {"data": {"name": "rates"}, "transform": [{"filter": "datum.taxon === 'Mesozoic'"}, {"fold": ["Origination", "Extinction"], "as": ["type", "rate"]}],
       "encoding": {"y": {"field": "level", "type": "quantitative", "scale": {"domain": [0, 482], "nice": false, "zero": false}, "axis": null},
                    "x": {"field": "rate", "type": "quantitative", "scale": {"domain": [0, 1.419], "nice": false}, "axis": {"title": null, "values": [0.2, 0.6, 1], "format": "~g", "grid": false, "domain": false, "tickSize": 3, "labelFontSize": 10.5, "labelPadding": 1, "labelFlush": false, "labelOverlap": false, "labelBound": false}}},
       "layer": [
         {"transform": [{"filter": "datum.type === 'Origination'"}], "mark": {"type": "area", "orient": "horizontal", "opacity": 0.55}, "encoding": {"fill": {"field": "type", "type": "nominal", "scale": {"domain": ["Extinction", "Origination"], "range": ["#ee6a5c", "#4b48a4"]}}}},
         {"transform": [{"filter": "datum.type === 'Extinction'"}], "mark": {"type": "area", "orient": "horizontal", "opacity": 0.55}, "encoding": {"fill": {"field": "type", "type": "nominal", "scale": {"domain": ["Extinction", "Origination"], "range": ["#ee6a5c", "#4b48a4"]}}}},
         {"transform": [{"filter": "datum.type === 'Origination'"}], "mark": {"type": "line", "color": "#5b5fa8", "strokeDash": [2, 2], "strokeWidth": 0.8}, "encoding": {"order": {"field": "level", "type": "quantitative"}}},
         {"transform": [{"filter": "datum.type === 'Extinction'"}], "mark": {"type": "line", "color": "#d9534f", "strokeWidth": 1}, "encoding": {"order": {"field": "level", "type": "quantitative"}}},
         {"transform": [{"filter": "datum.sampled && datum.type === 'Origination'"}], "mark": {"type": "point", "shape": "circle", "filled": true, "size": 20, "color": "#2f5b80", "opacity": 1}},
         {"transform": [{"filter": "datum.sampled && datum.type === 'Extinction'"}], "mark": {"type": "point", "shape": "triangle-up", "filled": true, "size": 34, "color": "#8e1b1b", "opacity": 1}}
       ]},
      {"data": {"values": [{}]}, "mark": {"type": "rect", "fill": "transparent", "stroke": "#8c8c8c", "strokeWidth": 1}, "encoding": {"y": {"datum": 0, "type": "quantitative"}, "y2": {"datum": 449}}},
      {"data": {"values": [{}]}, "mark": {"type": "rule", "color": "#8c8c8c"}, "encoding": {"y": {"datum": 391, "type": "quantitative"}}},
      {"data": {"values": [{}]}, "mark": {"type": "rule", "color": "#8c8c8c"}, "encoding": {"y": {"datum": 482, "type": "quantitative"}}},
      {"data": {"values": [{}]}, "mark": {"type": "text", "text": "Mesozoic\ntype\nlycopods", "lineBreak": "\n", "lineHeight": 9, "fontSize": 8.5}, "encoding": {"y": {"datum": 433, "type": "quantitative"}}},
      {"data": {"values": [{}]}, "mark": {"type": "text", "text": "(Tomiostrobus\n,Lepacyclotes\n,Pleuromeia)", "lineBreak": "\n", "lineHeight": 9, "fontSize": 8.5, "fontStyle": "italic"}, "encoding": {"y": {"datum": 406, "type": "quantitative"}}},
      {"data": {"values": [{}]}, "mark": {"type": "rule", "stroke": "#ee3a3a", "color": "#ee3a3a", "strokeWidth": 1.7, "strokeDash": [6, 3], "opacity": 1}, "encoding": {"y": {"datum": 89.5, "type": "quantitative"}}}
    ]},
    {"width": 58, "height": 482, "view": {"stroke": null}, "layer": [
      {"data": {"values": [{}]}, "mark": {"type": "rect", "color": "#fbe4a6"}, "encoding": {"y": {"datum": 97.7, "type": "quantitative", "scale": {"domain": [0, 482], "nice": false, "zero": false}, "axis": null}, "y2": {"datum": 109.3}}},
      {"data": {"name": "rates"}, "transform": [{"filter": "datum.taxon === 'sphenophyte'"}, {"fold": ["Origination", "Extinction"], "as": ["type", "rate"]}],
       "encoding": {"y": {"field": "level", "type": "quantitative", "scale": {"domain": [0, 482], "nice": false, "zero": false}, "axis": null},
                    "x": {"field": "rate", "type": "quantitative", "scale": {"domain": [0, 1.349], "nice": false}, "axis": {"title": null, "values": [0.2, 0.6, 1], "format": "~g", "grid": false, "domain": false, "tickSize": 3, "labelFontSize": 10.5, "labelPadding": 1, "labelFlush": false, "labelOverlap": false, "labelBound": false}}},
       "layer": [
         {"transform": [{"filter": "datum.type === 'Origination'"}], "mark": {"type": "area", "orient": "horizontal", "opacity": 0.55}, "encoding": {"fill": {"field": "type", "type": "nominal", "scale": {"domain": ["Extinction", "Origination"], "range": ["#ee6a5c", "#4b48a4"]}}}},
         {"transform": [{"filter": "datum.type === 'Extinction'"}], "mark": {"type": "area", "orient": "horizontal", "opacity": 0.55}, "encoding": {"fill": {"field": "type", "type": "nominal", "scale": {"domain": ["Extinction", "Origination"], "range": ["#ee6a5c", "#4b48a4"]}}}},
         {"transform": [{"filter": "datum.type === 'Origination'"}], "mark": {"type": "line", "color": "#5b5fa8", "strokeDash": [2, 2], "strokeWidth": 0.8}, "encoding": {"order": {"field": "level", "type": "quantitative"}}},
         {"transform": [{"filter": "datum.type === 'Extinction'"}], "mark": {"type": "line", "color": "#d9534f", "strokeWidth": 1}, "encoding": {"order": {"field": "level", "type": "quantitative"}}},
         {"transform": [{"filter": "datum.sampled && datum.type === 'Origination'"}], "mark": {"type": "point", "shape": "circle", "filled": true, "size": 20, "color": "#2f5b80", "opacity": 1}},
         {"transform": [{"filter": "datum.sampled && datum.type === 'Extinction'"}], "mark": {"type": "point", "shape": "triangle-up", "filled": true, "size": 34, "color": "#8e1b1b", "opacity": 1}}
       ]},
      {"data": {"values": [{}]}, "mark": {"type": "rect", "fill": "transparent", "stroke": "#8c8c8c", "strokeWidth": 1}, "encoding": {"y": {"datum": 0, "type": "quantitative"}, "y2": {"datum": 449}}},
      {"data": {"values": [{}]}, "mark": {"type": "rule", "color": "#8c8c8c"}, "encoding": {"y": {"datum": 391, "type": "quantitative"}}},
      {"data": {"values": [{}]}, "mark": {"type": "rule", "color": "#8c8c8c"}, "encoding": {"y": {"datum": 482, "type": "quantitative"}}},
      {"data": {"values": [{}]}, "mark": {"type": "text", "text": "spheno-\nphyte", "lineBreak": "\n", "lineHeight": 14, "fontSize": 11.5}, "encoding": {"y": {"datum": 419, "type": "quantitative"}}},
      {"data": {"values": [{}]}, "mark": {"type": "rule", "stroke": "#ee3a3a", "color": "#ee3a3a", "strokeWidth": 1.7, "strokeDash": [6, 3], "opacity": 1}, "encoding": {"y": {"datum": 89.5, "type": "quantitative"}}}
    ]},
    {"width": 57, "height": 482, "view": {"stroke": null}, "layer": [
      {"data": {"values": [{}]}, "mark": {"type": "rect", "color": "#fbe4a6"}, "encoding": {"y": {"datum": 97.7, "type": "quantitative", "scale": {"domain": [0, 482], "nice": false, "zero": false}, "axis": null}, "y2": {"datum": 109.3}}},
      {"data": {"name": "rates"}, "transform": [{"filter": "datum.taxon === 'fern'"}, {"fold": ["Origination", "Extinction"], "as": ["type", "rate"]}],
       "encoding": {"y": {"field": "level", "type": "quantitative", "scale": {"domain": [0, 482], "nice": false, "zero": false}, "axis": null},
                    "x": {"field": "rate", "type": "quantitative", "scale": {"domain": [0, 1.326], "nice": false}, "axis": {"title": null, "values": [0.2, 0.6, 1], "format": "~g", "grid": false, "domain": false, "tickSize": 3, "labelFontSize": 10.5, "labelPadding": 1, "labelFlush": false, "labelOverlap": false, "labelBound": false}}},
       "layer": [
         {"transform": [{"filter": "datum.type === 'Origination'"}], "mark": {"type": "area", "orient": "horizontal", "opacity": 0.55}, "encoding": {"fill": {"field": "type", "type": "nominal", "scale": {"domain": ["Extinction", "Origination"], "range": ["#ee6a5c", "#4b48a4"]}}}},
         {"transform": [{"filter": "datum.type === 'Extinction'"}], "mark": {"type": "area", "orient": "horizontal", "opacity": 0.55}, "encoding": {"fill": {"field": "type", "type": "nominal", "scale": {"domain": ["Extinction", "Origination"], "range": ["#ee6a5c", "#4b48a4"]}}}},
         {"transform": [{"filter": "datum.type === 'Origination'"}], "mark": {"type": "line", "color": "#5b5fa8", "strokeDash": [2, 2], "strokeWidth": 0.8}, "encoding": {"order": {"field": "level", "type": "quantitative"}}},
         {"transform": [{"filter": "datum.type === 'Extinction'"}], "mark": {"type": "line", "color": "#d9534f", "strokeWidth": 1}, "encoding": {"order": {"field": "level", "type": "quantitative"}}},
         {"transform": [{"filter": "datum.sampled && datum.type === 'Origination'"}], "mark": {"type": "point", "shape": "circle", "filled": true, "size": 20, "color": "#2f5b80", "opacity": 1}},
         {"transform": [{"filter": "datum.sampled && datum.type === 'Extinction'"}], "mark": {"type": "point", "shape": "triangle-up", "filled": true, "size": 34, "color": "#8e1b1b", "opacity": 1}}
       ]},
      {"data": {"values": [{}]}, "mark": {"type": "rect", "fill": "transparent", "stroke": "#8c8c8c", "strokeWidth": 1}, "encoding": {"y": {"datum": 0, "type": "quantitative"}, "y2": {"datum": 449}}},
      {"data": {"values": [{}]}, "mark": {"type": "rule", "color": "#8c8c8c"}, "encoding": {"y": {"datum": 391, "type": "quantitative"}}},
      {"data": {"values": [{}]}, "mark": {"type": "rule", "color": "#8c8c8c"}, "encoding": {"y": {"datum": 482, "type": "quantitative"}}},
      {"data": {"values": [{}]}, "mark": {"type": "text", "text": "fern", "fontSize": 11.5}, "encoding": {"y": {"datum": 419, "type": "quantitative"}}},
      {"data": {"values": [{}]}, "mark": {"type": "text", "text": "Plant species extinction rate & origination rate", "fontSize": 15.5, "dx": 26.5, "color": "#222222"}, "encoding": {"y": {"datum": 466, "type": "quantitative"}}},
      {"data": {"values": [{}]}, "mark": {"type": "rule", "stroke": "#ee3a3a", "color": "#ee3a3a", "strokeWidth": 1.7, "strokeDash": [6, 3], "opacity": 1}, "encoding": {"y": {"datum": 89.5, "type": "quantitative"}}}
    ]},
    {"width": 58, "height": 482, "view": {"stroke": null}, "layer": [
      {"data": {"values": [{}]}, "mark": {"type": "rect", "color": "#fbe4a6"}, "encoding": {"y": {"datum": 97.7, "type": "quantitative", "scale": {"domain": [0, 482], "nice": false, "zero": false}, "axis": null}, "y2": {"datum": 109.3}}},
      {"data": {"name": "rates"}, "transform": [{"filter": "datum.taxon === 'Noeggerathiales'"}, {"fold": ["Origination", "Extinction"], "as": ["type", "rate"]}],
       "encoding": {"y": {"field": "level", "type": "quantitative", "scale": {"domain": [0, 482], "nice": false, "zero": false}, "axis": null},
                    "x": {"field": "rate", "type": "quantitative", "scale": {"domain": [0, 1.349], "nice": false}, "axis": {"title": null, "values": [0.2, 0.6, 1], "format": "~g", "grid": false, "domain": false, "tickSize": 3, "labelFontSize": 10.5, "labelPadding": 1, "labelFlush": false, "labelOverlap": false, "labelBound": false}}},
       "layer": [
         {"transform": [{"filter": "datum.type === 'Origination'"}], "mark": {"type": "area", "orient": "horizontal", "opacity": 0.55}, "encoding": {"fill": {"field": "type", "type": "nominal", "scale": {"domain": ["Extinction", "Origination"], "range": ["#ee6a5c", "#4b48a4"]}}}},
         {"transform": [{"filter": "datum.type === 'Extinction'"}], "mark": {"type": "area", "orient": "horizontal", "opacity": 0.55}, "encoding": {"fill": {"field": "type", "type": "nominal", "scale": {"domain": ["Extinction", "Origination"], "range": ["#ee6a5c", "#4b48a4"]}}}},
         {"transform": [{"filter": "datum.type === 'Origination'"}], "mark": {"type": "line", "color": "#5b5fa8", "strokeDash": [2, 2], "strokeWidth": 0.8}, "encoding": {"order": {"field": "level", "type": "quantitative"}}},
         {"transform": [{"filter": "datum.type === 'Extinction'"}], "mark": {"type": "line", "color": "#d9534f", "strokeWidth": 1}, "encoding": {"order": {"field": "level", "type": "quantitative"}}},
         {"transform": [{"filter": "datum.sampled && datum.type === 'Origination'"}], "mark": {"type": "point", "shape": "circle", "filled": true, "size": 20, "color": "#2f5b80", "opacity": 1}},
         {"transform": [{"filter": "datum.sampled && datum.type === 'Extinction'"}], "mark": {"type": "point", "shape": "triangle-up", "filled": true, "size": 34, "color": "#8e1b1b", "opacity": 1}}
       ]},
      {"data": {"values": [{}]}, "mark": {"type": "rect", "fill": "transparent", "stroke": "#8c8c8c", "strokeWidth": 1}, "encoding": {"y": {"datum": 0, "type": "quantitative"}, "y2": {"datum": 449}}},
      {"data": {"values": [{}]}, "mark": {"type": "rule", "color": "#8c8c8c"}, "encoding": {"y": {"datum": 391, "type": "quantitative"}}},
      {"data": {"values": [{}]}, "mark": {"type": "rule", "color": "#8c8c8c"}, "encoding": {"y": {"datum": 482, "type": "quantitative"}}},
      {"data": {"values": [{}]}, "mark": {"type": "text", "text": "Noeggera\n-thiales", "lineBreak": "\n", "lineHeight": 14, "fontSize": 11}, "encoding": {"y": {"datum": 419, "type": "quantitative"}}},
      {"data": {"values": [{}]}, "mark": {"type": "rule", "stroke": "#ee3a3a", "color": "#ee3a3a", "strokeWidth": 1.7, "strokeDash": [6, 3], "opacity": 1}, "encoding": {"y": {"datum": 89.5, "type": "quantitative"}}}
    ]},
    {"width": 60, "height": 482, "view": {"stroke": null}, "layer": [
      {"data": {"values": [{}]}, "mark": {"type": "rect", "color": "#fbe4a6"}, "encoding": {"y": {"datum": 97.7, "type": "quantitative", "scale": {"domain": [0, 482], "nice": false, "zero": false}, "axis": null}, "y2": {"datum": 109.3}}},
      {"data": {"name": "rates"}, "transform": [{"filter": "datum.taxon === 'gigantopterid'"}, {"fold": ["Origination", "Extinction"], "as": ["type", "rate"]}],
       "encoding": {"y": {"field": "level", "type": "quantitative", "scale": {"domain": [0, 482], "nice": false, "zero": false}, "axis": null},
                    "x": {"field": "rate", "type": "quantitative", "scale": {"domain": [0, 1.395], "nice": false}, "axis": {"title": null, "values": [0.2, 0.6, 1], "format": "~g", "grid": false, "domain": false, "tickSize": 3, "labelFontSize": 10.5, "labelPadding": 1, "labelFlush": false, "labelOverlap": false, "labelBound": false}}},
       "layer": [
         {"transform": [{"filter": "datum.type === 'Origination'"}], "mark": {"type": "area", "orient": "horizontal", "opacity": 0.55}, "encoding": {"fill": {"field": "type", "type": "nominal", "scale": {"domain": ["Extinction", "Origination"], "range": ["#ee6a5c", "#4b48a4"]}}}},
         {"transform": [{"filter": "datum.type === 'Extinction'"}], "mark": {"type": "area", "orient": "horizontal", "opacity": 0.55}, "encoding": {"fill": {"field": "type", "type": "nominal", "scale": {"domain": ["Extinction", "Origination"], "range": ["#ee6a5c", "#4b48a4"]}}}},
         {"transform": [{"filter": "datum.type === 'Origination'"}], "mark": {"type": "line", "color": "#5b5fa8", "strokeDash": [2, 2], "strokeWidth": 0.8}, "encoding": {"order": {"field": "level", "type": "quantitative"}}},
         {"transform": [{"filter": "datum.type === 'Extinction'"}], "mark": {"type": "line", "color": "#d9534f", "strokeWidth": 1}, "encoding": {"order": {"field": "level", "type": "quantitative"}}},
         {"transform": [{"filter": "datum.sampled && datum.type === 'Origination'"}], "mark": {"type": "point", "shape": "circle", "filled": true, "size": 20, "color": "#2f5b80", "opacity": 1}},
         {"transform": [{"filter": "datum.sampled && datum.type === 'Extinction'"}], "mark": {"type": "point", "shape": "triangle-up", "filled": true, "size": 34, "color": "#8e1b1b", "opacity": 1}}
       ]},
      {"data": {"values": [{}]}, "mark": {"type": "rect", "fill": "transparent", "stroke": "#8c8c8c", "strokeWidth": 1}, "encoding": {"y": {"datum": 0, "type": "quantitative"}, "y2": {"datum": 449}}},
      {"data": {"values": [{}]}, "mark": {"type": "rule", "color": "#8c8c8c"}, "encoding": {"y": {"datum": 391, "type": "quantitative"}}},
      {"data": {"values": [{}]}, "mark": {"type": "rule", "color": "#8c8c8c"}, "encoding": {"y": {"datum": 482, "type": "quantitative"}}},
      {"data": {"values": [{}]}, "mark": {"type": "text", "text": "giganto-\npterid", "lineBreak": "\n", "lineHeight": 12, "fontSize": 11}, "encoding": {"y": {"datum": 419, "type": "quantitative"}}},
      {"data": {"values": [{}]}, "mark": {"type": "rule", "stroke": "#ee3a3a", "color": "#ee3a3a", "strokeWidth": 1.7, "strokeDash": [6, 3], "opacity": 1}, "encoding": {"y": {"datum": 89.5, "type": "quantitative"}}}
    ]},
    {"width": 59, "height": 482, "view": {"stroke": null}, "layer": [
      {"data": {"values": [{}]}, "mark": {"type": "rect", "color": "#fbe4a6"}, "encoding": {"y": {"datum": 97.7, "type": "quantitative", "scale": {"domain": [0, 482], "nice": false, "zero": false}, "axis": null}, "y2": {"datum": 109.3}}},
      {"data": {"name": "rates"}, "transform": [{"filter": "datum.taxon === 'peltasperm'"}, {"fold": ["Origination", "Extinction"], "as": ["type", "rate"]}],
       "encoding": {"y": {"field": "level", "type": "quantitative", "scale": {"domain": [0, 482], "nice": false, "zero": false}, "axis": null},
                    "x": {"field": "rate", "type": "quantitative", "scale": {"domain": [0, 1.372], "nice": false}, "axis": {"title": null, "values": [0.2, 0.6, 1], "format": "~g", "grid": false, "domain": false, "tickSize": 3, "labelFontSize": 10.5, "labelPadding": 1, "labelFlush": false, "labelOverlap": false, "labelBound": false}}},
       "layer": [
         {"transform": [{"filter": "datum.type === 'Origination'"}], "mark": {"type": "area", "orient": "horizontal", "opacity": 0.55}, "encoding": {"fill": {"field": "type", "type": "nominal", "scale": {"domain": ["Extinction", "Origination"], "range": ["#ee6a5c", "#4b48a4"]}}}},
         {"transform": [{"filter": "datum.type === 'Extinction'"}], "mark": {"type": "area", "orient": "horizontal", "opacity": 0.55}, "encoding": {"fill": {"field": "type", "type": "nominal", "scale": {"domain": ["Extinction", "Origination"], "range": ["#ee6a5c", "#4b48a4"]}}}},
         {"transform": [{"filter": "datum.type === 'Origination'"}], "mark": {"type": "line", "color": "#5b5fa8", "strokeDash": [2, 2], "strokeWidth": 0.8}, "encoding": {"order": {"field": "level", "type": "quantitative"}}},
         {"transform": [{"filter": "datum.type === 'Extinction'"}], "mark": {"type": "line", "color": "#d9534f", "strokeWidth": 1}, "encoding": {"order": {"field": "level", "type": "quantitative"}}},
         {"transform": [{"filter": "datum.sampled && datum.type === 'Origination'"}], "mark": {"type": "point", "shape": "circle", "filled": true, "size": 20, "color": "#2f5b80", "opacity": 1}},
         {"transform": [{"filter": "datum.sampled && datum.type === 'Extinction'"}], "mark": {"type": "point", "shape": "triangle-up", "filled": true, "size": 34, "color": "#8e1b1b", "opacity": 1}}
       ]},
      {"data": {"values": [{}]}, "mark": {"type": "rect", "fill": "transparent", "stroke": "#8c8c8c", "strokeWidth": 1}, "encoding": {"y": {"datum": 0, "type": "quantitative"}, "y2": {"datum": 449}}},
      {"data": {"values": [{}]}, "mark": {"type": "rule", "color": "#8c8c8c"}, "encoding": {"y": {"datum": 391, "type": "quantitative"}}},
      {"data": {"values": [{}]}, "mark": {"type": "rule", "color": "#8c8c8c"}, "encoding": {"y": {"datum": 482, "type": "quantitative"}}},
      {"data": {"values": [{}]}, "mark": {"type": "text", "text": "peltasperm", "fontSize": 11}, "encoding": {"y": {"datum": 419, "type": "quantitative"}}},
      {"data": {"values": [{}]}, "mark": {"type": "rule", "stroke": "#ee3a3a", "color": "#ee3a3a", "strokeWidth": 1.7, "strokeDash": [6, 3], "opacity": 1}, "encoding": {"y": {"datum": 89.5, "type": "quantitative"}}}
    ]},
    {"width": 58, "height": 482, "view": {"stroke": null}, "layer": [
      {"data": {"values": [{}]}, "mark": {"type": "rect", "color": "#fbe4a6"}, "encoding": {"y": {"datum": 97.7, "type": "quantitative", "scale": {"domain": [0, 482], "nice": false, "zero": false}, "axis": null}, "y2": {"datum": 109.3}}},
      {"data": {"name": "rates"}, "transform": [{"filter": "datum.taxon === 'all seed fern'"}, {"fold": ["Origination", "Extinction"], "as": ["type", "rate"]}],
       "encoding": {"y": {"field": "level", "type": "quantitative", "scale": {"domain": [0, 482], "nice": false, "zero": false}, "axis": null},
                    "x": {"field": "rate", "type": "quantitative", "scale": {"domain": [0, 1.349], "nice": false}, "axis": {"title": null, "values": [0.2, 0.6, 1], "format": "~g", "grid": false, "domain": false, "tickSize": 3, "labelFontSize": 10.5, "labelPadding": 1, "labelFlush": false, "labelOverlap": false, "labelBound": false}}},
       "layer": [
         {"transform": [{"filter": "datum.type === 'Origination'"}], "mark": {"type": "area", "orient": "horizontal", "opacity": 0.55}, "encoding": {"fill": {"field": "type", "type": "nominal", "scale": {"domain": ["Extinction", "Origination"], "range": ["#ee6a5c", "#4b48a4"]}}}},
         {"transform": [{"filter": "datum.type === 'Extinction'"}], "mark": {"type": "area", "orient": "horizontal", "opacity": 0.55}, "encoding": {"fill": {"field": "type", "type": "nominal", "scale": {"domain": ["Extinction", "Origination"], "range": ["#ee6a5c", "#4b48a4"]}}}},
         {"transform": [{"filter": "datum.type === 'Origination'"}], "mark": {"type": "line", "color": "#5b5fa8", "strokeDash": [2, 2], "strokeWidth": 0.8}, "encoding": {"order": {"field": "level", "type": "quantitative"}}},
         {"transform": [{"filter": "datum.type === 'Extinction'"}], "mark": {"type": "line", "color": "#d9534f", "strokeWidth": 1}, "encoding": {"order": {"field": "level", "type": "quantitative"}}},
         {"transform": [{"filter": "datum.sampled && datum.type === 'Origination'"}], "mark": {"type": "point", "shape": "circle", "filled": true, "size": 20, "color": "#2f5b80", "opacity": 1}},
         {"transform": [{"filter": "datum.sampled && datum.type === 'Extinction'"}], "mark": {"type": "point", "shape": "triangle-up", "filled": true, "size": 34, "color": "#8e1b1b", "opacity": 1}}
       ]},
      {"data": {"values": [{}]}, "mark": {"type": "rect", "fill": "transparent", "stroke": "#8c8c8c", "strokeWidth": 1}, "encoding": {"y": {"datum": 0, "type": "quantitative"}, "y2": {"datum": 449}}},
      {"data": {"values": [{}]}, "mark": {"type": "rule", "color": "#8c8c8c"}, "encoding": {"y": {"datum": 391, "type": "quantitative"}}},
      {"data": {"values": [{}]}, "mark": {"type": "rule", "color": "#8c8c8c"}, "encoding": {"y": {"datum": 482, "type": "quantitative"}}},
      {"data": {"values": [{}]}, "mark": {"type": "text", "text": "all\nseed fern", "lineBreak": "\n", "lineHeight": 12, "fontSize": 11}, "encoding": {"y": {"datum": 419, "type": "quantitative"}}},
      {"data": {"values": [{}]}, "mark": {"type": "rule", "stroke": "#ee3a3a", "color": "#ee3a3a", "strokeWidth": 1.7, "strokeDash": [6, 3], "opacity": 1}, "encoding": {"y": {"datum": 89.5, "type": "quantitative"}}}
    ]},
    {"width": 59, "height": 482, "view": {"stroke": null}, "layer": [
      {"data": {"values": [{}]}, "mark": {"type": "rect", "color": "#fbe4a6"}, "encoding": {"y": {"datum": 97.7, "type": "quantitative", "scale": {"domain": [0, 482], "nice": false, "zero": false}, "axis": null}, "y2": {"datum": 109.3}}},
      {"data": {"name": "rates"}, "transform": [{"filter": "datum.taxon === 'cordaites'"}, {"fold": ["Origination", "Extinction"], "as": ["type", "rate"]}],
       "encoding": {"y": {"field": "level", "type": "quantitative", "scale": {"domain": [0, 482], "nice": false, "zero": false}, "axis": null},
                    "x": {"field": "rate", "type": "quantitative", "scale": {"domain": [0, 1.372], "nice": false}, "axis": {"title": null, "values": [0.2, 0.6, 1], "format": "~g", "grid": false, "domain": false, "tickSize": 3, "labelFontSize": 10.5, "labelPadding": 1, "labelFlush": false, "labelOverlap": false, "labelBound": false}}},
       "layer": [
         {"transform": [{"filter": "datum.type === 'Origination'"}], "mark": {"type": "area", "orient": "horizontal", "opacity": 0.55}, "encoding": {"fill": {"field": "type", "type": "nominal", "scale": {"domain": ["Extinction", "Origination"], "range": ["#ee6a5c", "#4b48a4"]}}}},
         {"transform": [{"filter": "datum.type === 'Extinction'"}], "mark": {"type": "area", "orient": "horizontal", "opacity": 0.55}, "encoding": {"fill": {"field": "type", "type": "nominal", "scale": {"domain": ["Extinction", "Origination"], "range": ["#ee6a5c", "#4b48a4"]}}}},
         {"transform": [{"filter": "datum.type === 'Origination'"}], "mark": {"type": "line", "color": "#5b5fa8", "strokeDash": [2, 2], "strokeWidth": 0.8}, "encoding": {"order": {"field": "level", "type": "quantitative"}}},
         {"transform": [{"filter": "datum.type === 'Extinction'"}], "mark": {"type": "line", "color": "#d9534f", "strokeWidth": 1}, "encoding": {"order": {"field": "level", "type": "quantitative"}}},
         {"transform": [{"filter": "datum.sampled && datum.type === 'Origination'"}], "mark": {"type": "point", "shape": "circle", "filled": true, "size": 20, "color": "#2f5b80", "opacity": 1}},
         {"transform": [{"filter": "datum.sampled && datum.type === 'Extinction'"}], "mark": {"type": "point", "shape": "triangle-up", "filled": true, "size": 34, "color": "#8e1b1b", "opacity": 1}}
       ]},
      {"data": {"values": [{}]}, "mark": {"type": "rect", "fill": "transparent", "stroke": "#8c8c8c", "strokeWidth": 1}, "encoding": {"y": {"datum": 0, "type": "quantitative"}, "y2": {"datum": 449}}},
      {"data": {"values": [{}]}, "mark": {"type": "rule", "color": "#8c8c8c"}, "encoding": {"y": {"datum": 391, "type": "quantitative"}}},
      {"data": {"values": [{}]}, "mark": {"type": "rule", "color": "#8c8c8c"}, "encoding": {"y": {"datum": 482, "type": "quantitative"}}},
      {"data": {"values": [{}]}, "mark": {"type": "text", "text": "cordaites", "fontSize": 11}, "encoding": {"y": {"datum": 419, "type": "quantitative"}}},
      {"data": {"values": [{}]}, "mark": {"type": "rule", "stroke": "#ee3a3a", "color": "#ee3a3a", "strokeWidth": 1.7, "strokeDash": [6, 3], "opacity": 1}, "encoding": {"y": {"datum": 89.5, "type": "quantitative"}}}
    ]},
    {"width": 58, "height": 482, "view": {"stroke": null}, "layer": [
      {"data": {"values": [{}]}, "mark": {"type": "rect", "color": "#fbe4a6"}, "encoding": {"y": {"datum": 97.7, "type": "quantitative", "scale": {"domain": [0, 482], "nice": false, "zero": false}, "axis": null}, "y2": {"datum": 109.3}}},
      {"data": {"name": "rates"}, "transform": [{"filter": "datum.taxon === 'cycadophyte'"}, {"fold": ["Origination", "Extinction"], "as": ["type", "rate"]}],
       "encoding": {"y": {"field": "level", "type": "quantitative", "scale": {"domain": [0, 482], "nice": false, "zero": false}, "axis": null},
                    "x": {"field": "rate", "type": "quantitative", "scale": {"domain": [0, 1.349], "nice": false}, "axis": {"title": null, "values": [0.2, 0.6, 1], "format": "~g", "grid": false, "domain": false, "tickSize": 3, "labelFontSize": 10.5, "labelPadding": 1, "labelFlush": false, "labelOverlap": false, "labelBound": false}}},
       "layer": [
         {"transform": [{"filter": "datum.type === 'Origination'"}], "mark": {"type": "area", "orient": "horizontal", "opacity": 0.55}, "encoding": {"fill": {"field": "type", "type": "nominal", "scale": {"domain": ["Extinction", "Origination"], "range": ["#ee6a5c", "#4b48a4"]}}}},
         {"transform": [{"filter": "datum.type === 'Extinction'"}], "mark": {"type": "area", "orient": "horizontal", "opacity": 0.55}, "encoding": {"fill": {"field": "type", "type": "nominal", "scale": {"domain": ["Extinction", "Origination"], "range": ["#ee6a5c", "#4b48a4"]}}}},
         {"transform": [{"filter": "datum.type === 'Origination'"}], "mark": {"type": "line", "color": "#5b5fa8", "strokeDash": [2, 2], "strokeWidth": 0.8}, "encoding": {"order": {"field": "level", "type": "quantitative"}}},
         {"transform": [{"filter": "datum.type === 'Extinction'"}], "mark": {"type": "line", "color": "#d9534f", "strokeWidth": 1}, "encoding": {"order": {"field": "level", "type": "quantitative"}}},
         {"transform": [{"filter": "datum.sampled && datum.type === 'Origination'"}], "mark": {"type": "point", "shape": "circle", "filled": true, "size": 20, "color": "#2f5b80", "opacity": 1}},
         {"transform": [{"filter": "datum.sampled && datum.type === 'Extinction'"}], "mark": {"type": "point", "shape": "triangle-up", "filled": true, "size": 34, "color": "#8e1b1b", "opacity": 1}}
       ]},
      {"data": {"values": [{}]}, "mark": {"type": "rect", "fill": "transparent", "stroke": "#8c8c8c", "strokeWidth": 1}, "encoding": {"y": {"datum": 0, "type": "quantitative"}, "y2": {"datum": 449}}},
      {"data": {"values": [{}]}, "mark": {"type": "rule", "color": "#8c8c8c"}, "encoding": {"y": {"datum": 391, "type": "quantitative"}}},
      {"data": {"values": [{}]}, "mark": {"type": "rule", "color": "#8c8c8c"}, "encoding": {"y": {"datum": 482, "type": "quantitative"}}},
      {"data": {"values": [{}]}, "mark": {"type": "text", "text": "cycado-\nphyte", "lineBreak": "\n", "lineHeight": 12, "fontSize": 11}, "encoding": {"y": {"datum": 419, "type": "quantitative"}}},
      {"data": {"values": [{}]}, "mark": {"type": "rule", "stroke": "#ee3a3a", "color": "#ee3a3a", "strokeWidth": 1.7, "strokeDash": [6, 3], "opacity": 1}, "encoding": {"y": {"datum": 89.5, "type": "quantitative"}}}
    ]},
    {"width": 59, "height": 482, "view": {"stroke": null}, "layer": [
      {"data": {"values": [{}]}, "mark": {"type": "rect", "color": "#fbe4a6"}, "encoding": {"y": {"datum": 97.7, "type": "quantitative", "scale": {"domain": [0, 482], "nice": false, "zero": false}, "axis": null}, "y2": {"datum": 109.3}}},
      {"data": {"name": "rates"}, "transform": [{"filter": "datum.taxon === 'ginkgophyte'"}, {"fold": ["Origination", "Extinction"], "as": ["type", "rate"]}],
       "encoding": {"y": {"field": "level", "type": "quantitative", "scale": {"domain": [0, 482], "nice": false, "zero": false}, "axis": null},
                    "x": {"field": "rate", "type": "quantitative", "scale": {"domain": [0, 1.372], "nice": false}, "axis": {"title": null, "values": [0.2, 0.6, 1], "format": "~g", "grid": false, "domain": false, "tickSize": 3, "labelFontSize": 10.5, "labelPadding": 1, "labelFlush": false, "labelOverlap": false, "labelBound": false}}},
       "layer": [
         {"transform": [{"filter": "datum.type === 'Origination'"}], "mark": {"type": "area", "orient": "horizontal", "opacity": 0.55}, "encoding": {"fill": {"field": "type", "type": "nominal", "scale": {"domain": ["Extinction", "Origination"], "range": ["#ee6a5c", "#4b48a4"]}}}},
         {"transform": [{"filter": "datum.type === 'Extinction'"}], "mark": {"type": "area", "orient": "horizontal", "opacity": 0.55}, "encoding": {"fill": {"field": "type", "type": "nominal", "scale": {"domain": ["Extinction", "Origination"], "range": ["#ee6a5c", "#4b48a4"]}}}},
         {"transform": [{"filter": "datum.type === 'Origination'"}], "mark": {"type": "line", "color": "#5b5fa8", "strokeDash": [2, 2], "strokeWidth": 0.8}, "encoding": {"order": {"field": "level", "type": "quantitative"}}},
         {"transform": [{"filter": "datum.type === 'Extinction'"}], "mark": {"type": "line", "color": "#d9534f", "strokeWidth": 1}, "encoding": {"order": {"field": "level", "type": "quantitative"}}},
         {"transform": [{"filter": "datum.sampled && datum.type === 'Origination'"}], "mark": {"type": "point", "shape": "circle", "filled": true, "size": 20, "color": "#2f5b80", "opacity": 1}},
         {"transform": [{"filter": "datum.sampled && datum.type === 'Extinction'"}], "mark": {"type": "point", "shape": "triangle-up", "filled": true, "size": 34, "color": "#8e1b1b", "opacity": 1}}
       ]},
      {"data": {"values": [{}]}, "mark": {"type": "rect", "fill": "transparent", "stroke": "#8c8c8c", "strokeWidth": 1}, "encoding": {"y": {"datum": 0, "type": "quantitative"}, "y2": {"datum": 449}}},
      {"data": {"values": [{}]}, "mark": {"type": "rule", "color": "#8c8c8c"}, "encoding": {"y": {"datum": 391, "type": "quantitative"}}},
      {"data": {"values": [{}]}, "mark": {"type": "rule", "color": "#8c8c8c"}, "encoding": {"y": {"datum": 482, "type": "quantitative"}}},
      {"data": {"values": [{}]}, "mark": {"type": "text", "text": "ginkgo-\nphyte", "lineBreak": "\n", "lineHeight": 12, "fontSize": 11}, "encoding": {"y": {"datum": 419, "type": "quantitative"}}},
      {"data": {"values": [{}]}, "mark": {"type": "rule", "stroke": "#ee3a3a", "color": "#ee3a3a", "strokeWidth": 1.7, "strokeDash": [6, 3], "opacity": 1}, "encoding": {"y": {"datum": 89.5, "type": "quantitative"}}}
    ]},
    {"width": 49, "height": 482, "view": {"stroke": null}, "layer": [
      {"data": {"values": [{}]}, "mark": {"type": "rect", "color": "#fbe4a6"}, "encoding": {"y": {"datum": 97.7, "type": "quantitative", "scale": {"domain": [0, 482], "nice": false, "zero": false}, "axis": null}, "y2": {"datum": 109.3}}},
      {"data": {"name": "rates"}, "transform": [{"filter": "datum.taxon === 'conifer'"}, {"fold": ["Origination", "Extinction"], "as": ["type", "rate"]}],
       "encoding": {"y": {"field": "level", "type": "quantitative", "scale": {"domain": [0, 482], "nice": false, "zero": false}, "axis": null},
                    "x": {"field": "rate", "type": "quantitative", "scale": {"domain": [0, 1.14], "nice": false}, "axis": {"title": null, "values": [0.2, 0.6, 1], "format": "~g", "grid": false, "domain": false, "tickSize": 3, "labelFontSize": 10.5, "labelPadding": 1, "labelFlush": false, "labelOverlap": false, "labelBound": false}}},
       "layer": [
         {"transform": [{"filter": "datum.type === 'Origination'"}], "mark": {"type": "area", "orient": "horizontal", "opacity": 0.55}, "encoding": {"fill": {"field": "type", "type": "nominal", "scale": {"domain": ["Extinction", "Origination"], "range": ["#ee6a5c", "#4b48a4"]}}}},
         {"transform": [{"filter": "datum.type === 'Extinction'"}], "mark": {"type": "area", "orient": "horizontal", "opacity": 0.55}, "encoding": {"fill": {"field": "type", "type": "nominal", "scale": {"domain": ["Extinction", "Origination"], "range": ["#ee6a5c", "#4b48a4"]}}}},
         {"transform": [{"filter": "datum.type === 'Origination'"}], "mark": {"type": "line", "color": "#5b5fa8", "strokeDash": [2, 2], "strokeWidth": 0.8}, "encoding": {"order": {"field": "level", "type": "quantitative"}}},
         {"transform": [{"filter": "datum.type === 'Extinction'"}], "mark": {"type": "line", "color": "#d9534f", "strokeWidth": 1}, "encoding": {"order": {"field": "level", "type": "quantitative"}}},
         {"transform": [{"filter": "datum.sampled && datum.type === 'Origination'"}], "mark": {"type": "point", "shape": "circle", "filled": true, "size": 20, "color": "#2f5b80", "opacity": 1}},
         {"transform": [{"filter": "datum.sampled && datum.type === 'Extinction'"}], "mark": {"type": "point", "shape": "triangle-up", "filled": true, "size": 34, "color": "#8e1b1b", "opacity": 1}}
       ]},
      {"data": {"values": [{}]}, "mark": {"type": "rect", "fill": "transparent", "stroke": "#8c8c8c", "strokeWidth": 1}, "encoding": {"y": {"datum": 0, "type": "quantitative"}, "y2": {"datum": 449}}},
      {"data": {"values": [{}]}, "mark": {"type": "rule", "color": "#8c8c8c"}, "encoding": {"y": {"datum": 391, "type": "quantitative"}}},
      {"data": {"values": [{}]}, "mark": {"type": "rule", "color": "#8c8c8c"}, "encoding": {"y": {"datum": 482, "type": "quantitative"}}},
      {"data": {"values": [{}]}, "mark": {"type": "text", "text": "conifer", "fontSize": 11}, "encoding": {"y": {"datum": 419, "type": "quantitative"}}},
      {"data": {"values": [{}]}, "mark": {"type": "rule", "stroke": "#ee3a3a", "color": "#ee3a3a", "strokeWidth": 1.7, "strokeDash": [6, 3], "opacity": 1}, "encoding": {"y": {"datum": 89.5, "type": "quantitative"}}}
    ]}
  ]
}
